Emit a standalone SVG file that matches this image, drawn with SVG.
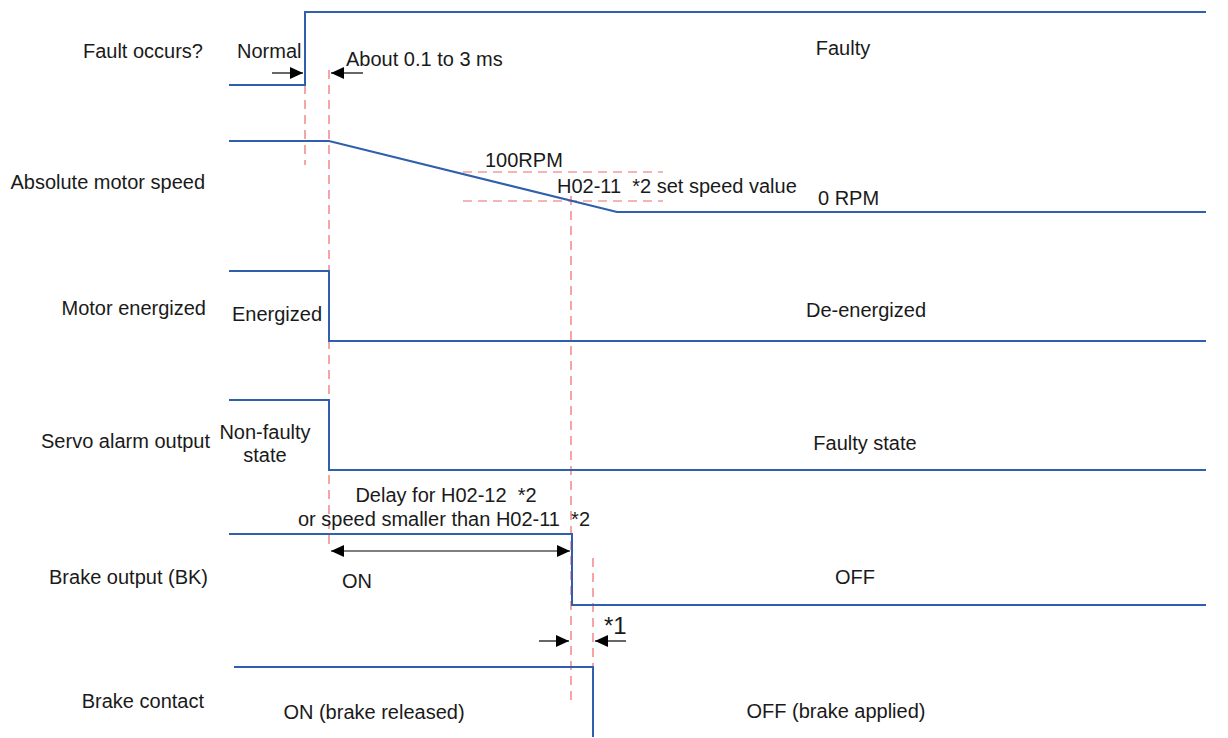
<svg xmlns="http://www.w3.org/2000/svg" width="1228" height="738" viewBox="0 0 1228 738">
<style>
text{font-family:"Liberation Sans",Arial,sans-serif;font-size:20px;fill:#1a1a1a}
.sig{fill:none;stroke:#2f5fad;stroke-width:2}
.dash{fill:none;stroke:#f06a6a;stroke-width:1.2;stroke-dasharray:9,6}
.arr{fill:none;stroke:#000;stroke-width:1.2}
.r{text-anchor:end}
.m{text-anchor:middle}
</style>
<defs>
<marker id="ah" viewBox="0 0 13 12" refX="13" refY="6" markerWidth="13" markerHeight="12" markerUnits="userSpaceOnUse" orient="auto-start-reverse">
<path d="M0,0 L13,6 L0,12 Z" fill="#000"/>
</marker>
</defs>
<g id="labels">
<text class="r" x="203" y="58">Fault occurs?</text>
<text class="r" x="205" y="189">Absolute motor speed</text>
<text class="r" x="206" y="315">Motor energized</text>
<text class="r" x="210" y="448">Servo alarm output</text>
<text class="r" x="208" y="584">Brake output (BK)</text>
<text class="r" x="204" y="708">Brake contact</text>
</g>
<g id="guides">
<line class="dash" x1="305" y1="70" x2="305" y2="165"/>
<line class="dash" x1="329" y1="70" x2="329" y2="550"/>
<line class="dash" x1="571" y1="196" x2="571" y2="705"/>
<line class="dash" x1="593" y1="558" x2="593" y2="680"/>
<line class="dash" x1="463" y1="172" x2="663" y2="172"/>
<line class="dash" x1="463" y1="201" x2="663" y2="201"/>
</g>
<g id="signals">
<polyline id="fault" class="sig" points="229,85 305,85 305,12 1206,12"/>
<polyline id="speed" class="sig" points="229,141 329,141 617,212 1206,212"/>
<polyline id="motor" class="sig" points="229,271 329,271 329,341 1206,341"/>
<polyline id="alarm" class="sig" points="229,400 329,400 329,470 1206,470"/>
<polyline id="brake" class="sig" points="229,534 572,534 572,605 1206,605"/>
<polyline id="contact" class="sig" points="234,667 593,667 593,737"/>
</g>
<g id="connectors">
<line class="arr" x1="272" y1="73" x2="303" y2="73" marker-end="url(#ah)"/>
<line class="arr" x1="363" y1="73" x2="331" y2="73" marker-end="url(#ah)"/>
<line class="arr" x1="331" y1="551" x2="570" y2="551" marker-start="url(#ah)" marker-end="url(#ah)"/>
<line class="arr" x1="539" y1="641" x2="569" y2="641" marker-end="url(#ah)"/>
<line class="arr" x1="626" y1="641" x2="595" y2="641" marker-end="url(#ah)"/>
</g>
<g id="texts">
<text x="237" y="58">Normal</text>
<text x="346" y="66">About 0.1 to 3 ms</text>
<text class="m" x="843" y="55">Faulty</text>
<text x="485" y="167">100RPM</text>
<text x="557" y="193" xml:space="preserve">H02-11  *2 set speed value</text>
<text x="818" y="205">0 RPM</text>
<text x="232" y="321">Energized</text>
<text class="m" x="866" y="317">De-energized</text>
<text class="m" x="265" y="439">Non-faulty</text>
<text class="m" x="265" y="462">state</text>
<text class="m" x="865" y="450">Faulty state</text>
<text class="m" x="446" y="502" xml:space="preserve">Delay for H02-12  *2</text>
<text x="298" y="526" xml:space="preserve">or speed smaller than H02-11  *2</text>
<text x="342" y="588">ON</text>
<text class="m" x="855" y="584">OFF</text>
<text x="604" y="634" style="font-size:24px">*1</text>
<text class="m" x="374" y="719">ON (brake released)</text>
<text class="m" x="836" y="718">OFF (brake applied)</text>
</g>
</svg>
